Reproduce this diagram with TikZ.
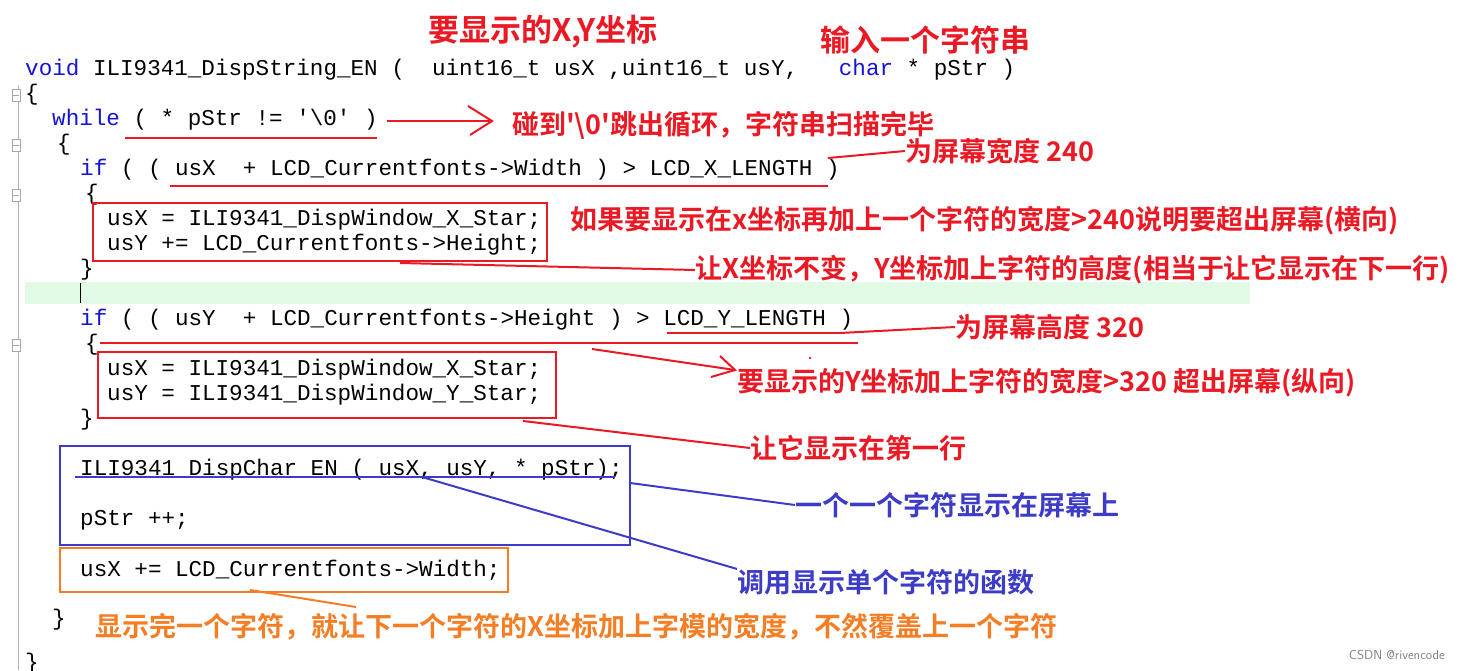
\documentclass[tikz,border=0pt]{standalone}
\usepackage{fontspec}
\setmonofont{Liberation Mono}
\newfontfamily\cjk{Noto Sans CJK SC Bold}
\definecolor{kw}{RGB}{20,20,215}
\definecolor{rd}{RGB}{235,25,35}
\definecolor{bl}{RGB}{60,60,200}
\definecolor{org}{RGB}{245,125,35}
\definecolor{hl}{RGB}{225,250,230}
\tikzset{
 code/.style={anchor=west,inner sep=0pt,font=\ttfamily\fontsize{22.6}{25}\selectfont},
 note/.style={anchor=west,inner sep=0pt,font=\cjk\fontsize{27}{30}\selectfont,text=rd},
 bnote/.style={note,text=bl},
 onote/.style={note,text=org},
 rl/.style={draw=rd,line width=2pt},
 blu/.style={draw=bl,line width=2pt},
 orl/.style={draw=org,line width=2pt},
}
\newcommand\kwd[1]{\textcolor{kw}{#1}}
\begin{document}
\begin{tikzpicture}[x=1pt,y=-1pt]
\useasboundingbox[fill=white] (0,0) rectangle (1460,670);
\fill[hl] (25,282) rectangle (1250,304);
\draw[gray!60,line width=1pt] (18,85) -- (18,670);
\foreach \yy in {95,145,195,345}{\draw[gray!70,fill=white] (12,\yy-6) rectangle (20,\yy+6); \draw[gray!70] (13,\yy)--(19,\yy);}
\draw[black] (80,283)--(80,303);
% code
\node[code] (l1) at (25,70) {\kwd{void} ILI9341\_DispString\_EN (~~uint16\_t usX ,uint16\_t usY,~~~\kwd{char} * pStr )};
\node[code] (l2) at (25,95) {\{};
\node[code] (l3) at (52,120) {\kwd{while} ( * pStr != '\textbackslash0' )};
\node[code] (l4) at (57,145) {\{};
\node[code] (l5) at (80,170) {\kwd{if} ( ( usX~~+ LCD\_Currentfonts->Width ) > LCD\_X\_LENGTH )};
\node[code] (l6) at (85,195) {\{};
\node[code] (l7) at (107,220) {usX = ILI9341\_DispWindow\_X\_Star;};
\node[code] (l8) at (107,245) {usY += LCD\_Currentfonts->Height;};
\node[code] (l9) at (80,270) {\}};
\node[code] (l10) at (80,320) {\kwd{if} ( ( usY~~+ LCD\_Currentfonts->Height ) > LCD\_Y\_LENGTH )};
\node[code] (l11) at (85,345) {\{};
\node[code] (l12) at (107,370) {usX = ILI9341\_DispWindow\_X\_Star;};
\node[code] (l13) at (107,395) {usY = ILI9341\_DispWindow\_Y\_Star;};
\node[code] (l14) at (80,420) {\}};
\node[code] (l15) at (80,470) {ILI9341\_DispChar\_EN ( usX, usY, * pStr);};
\node[code] (l16) at (80,520) {pStr ++;};
\node[code] (l17) at (80,570) {usX += LCD\_Currentfonts->Width;};
\node[code] (l18) at (52,620) {\}};
\node[code] (l19) at (25,664) {\}};
% titles
\node[note,anchor=center,font=\cjk\fontsize{31}{33}\selectfont] (t1) at (543,32) {要显示的X,Y坐标};
\node[note,anchor=center,font=\cjk\fontsize{30}{33}\selectfont] (t2) at (925,40) {输入一个字符串};
% notes
\node[note] (n1) at (512,125) {碰到'\textbackslash0'跳出循环，字符串扫描完毕};
\node[note] (n2) at (905,151) {为屏幕宽度 240};
\node[note] (n3) at (570,221) {如果要显示在x坐标再加上一个字符的宽度>240说明要超出屏幕(横向)};
\node[note] (n4) at (695,270) {让X坐标不变，Y坐标加上字符的高度(相当于让它显示在下一行)};
\node[note] (n5) at (955,327) {为屏幕高度 320};
\node[note] (n6) at (737,383) {要显示的Y坐标加上字符的宽度>320 超出屏幕(纵向)};
\node[note] (n7) at (750,448) {让它显示在第一行};
\node[bnote] (n8) at (795,505) {一个一个字符显示在屏幕上};
\node[bnote] (n9) at (737,582) {调用显示单个字符的函数};
\node[onote] (n10) at (95,627) {显示完一个字符，就让下一个字符的X坐标加上字模的宽度，不然覆盖上一个字符};
\node[anchor=east,inner sep=0pt,text=gray,font=\sffamily\fontsize{13}{15}\selectfont] (wm) at (1445,655) {CSDN @rivencode};
% red marks
\coordinate (a1) at (387,121); \coordinate (a2) at (492,121);
\draw[rl] (125,138) -- (377,138);
\draw[rl] (a1) -- (a2);
\draw[rl] (468,106) -- (a2) -- (470,135);
\draw[rl] (170,186) -- (828,186);
\coordinate (b1) at (828,158);
\draw[rl] (b1) -- (n2.west);
\node[draw=rd,line width=2pt,inner sep=0pt,minimum width=454,minimum height=58] (box1) at (320,232) {};
\coordinate (c1) at (400,263);
\draw[rl] (c1) -- (n4.west);
\draw[rl] (100,343) -- (858,343);
\draw[rl] (667,333) -- (840,333);
\coordinate (d1) at (840,333);
\draw[rl] (d1) -- (n5.west);
\coordinate (e1) at (592,349); \coordinate (e2) at (735,370);
\draw[rl] (e1) -- (e2);
\draw[rl] (720,356) -- (e2) -- (711,377);
\fill[rd] (810,358) circle (1.3);
\node[draw=rd,line width=2pt,inner sep=0pt,minimum width=458,minimum height=66] (box2) at (327,385) {};
\coordinate (f1) at (523,421);
\draw[rl] (f1) -- (n7.west);
% blue
\node[draw=bl,line width=2pt,inner sep=0pt,minimum width=570,minimum height=99] (box3) at (345,495.5) {};
\draw[blu] (75,477) -- (615,477);
\coordinate (g1) at (630,483);
\draw[blu] (g1) -- (n8.west);
\coordinate (h1) at (422,477);
\draw[blu] (h1) -- (n9.north west);
% orange
\node[draw=org,line width=2pt,inner sep=0pt,minimum width=448,minimum height=44] (box4) at (284,570) {};
\coordinate (o1) at (250,590); \coordinate (o2) at (356,607);
\draw[orl] (o1) -- (o2);
\end{tikzpicture}
\end{document}
